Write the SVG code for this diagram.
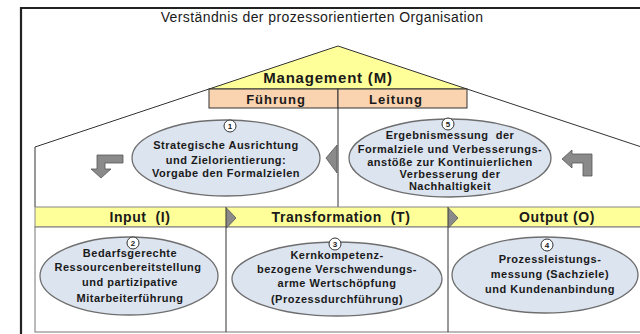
<svg xmlns="http://www.w3.org/2000/svg" width="640" height="334" viewBox="0 0 640 334">
<style>
.t{font-family:"Liberation Sans",Arial,sans-serif;fill:#1a1a1a;text-anchor:middle}
.b{font-weight:bold}
.el{fill:#dce4f0;stroke:#6e6e6e;stroke-width:1.3}
.ln{stroke:#333;stroke-width:1;fill:none}
.arr{fill:#8a8a8a;stroke:#555;stroke-width:0.8}
.num{fill:#fff;stroke:#333;stroke-width:1}
.nt{font-family:"Liberation Sans",Arial,sans-serif;font-size:8px;font-weight:bold;text-anchor:middle;fill:#1a1a1a}
.et{font-size:11px;letter-spacing:0.5px}
.hd{font-size:14px;letter-spacing:0.6px}
</style>
<rect width="640" height="334" fill="#fff"/>
<g id="frame">
<path d="M21,334 V8 H640" fill="none" stroke="#222" stroke-width="2.2"/>
</g>
<text class="t" x="322" y="22" font-size="14" letter-spacing="0.4" fill="#000">Verständnis der prozessorientierten Organisation</text>
<g id="connectors">
<path class="ln" d="M209,89 L35,147 V207"/>
<path class="ln" d="M467,89 L640,146.5"/>
<path class="ln" d="M338,108 V207"/>
<path class="ln" d="M226,207 V332 M448,207 V332"/>
</g>
<g id="management">
<polygon points="338,46 209,89 467,89" fill="#ffff99" stroke="#333" stroke-width="1"/>
<text class="t b" x="328" y="83" font-size="15" letter-spacing="0.8">Management (M)</text>
</g>
<g id="fuehrung">
<rect x="209" y="89" width="129" height="19" fill="#fad3b0" stroke="#333" stroke-width="1"/>
<text class="t b" x="276" y="103.5" font-size="13" letter-spacing="1">Führung</text>
</g>
<g id="leitung">
<rect x="338" y="89" width="129" height="19" fill="#fad3b0" stroke="#333" stroke-width="1"/>
<text class="t b" x="396" y="103.5" font-size="13" letter-spacing="1">Leitung</text>
</g>
<g id="arrow-left">
<path class="arr" d="M123,155 L97,155 L97,169 L91,169 L101,178 L111,169 L105,169 L105,163 L123,163 Z"/>
</g>
<g id="arrow-center">
<polygon class="arr" points="326,158 337,145 337,173"/>
</g>
<g id="arrow-right">
<path class="arr" d="M562,159 L572,150 L572,154 L592,154 L592,176 L583,176 L583,163 L572,163 L572,168 Z"/>
</g>
<g id="node1">
<ellipse class="el" cx="226" cy="158" rx="94" ry="38"/>
<circle class="num" cx="230" cy="126" r="6"/>
<text class="nt" x="230" y="129">1</text>
<text class="t b et" x="226" y="149">Strategische Ausrichtung</text>
<text class="t b et" x="226" y="163.5">und Zielorientierung:</text>
<text class="t b et" x="226" y="177">Vorgabe den Formalzielen</text>
</g>
<g id="node5">
<ellipse class="el" cx="450" cy="158" rx="101" ry="39"/>
<circle class="num" cx="448" cy="124" r="6"/>
<text class="nt" x="448" y="127">5</text>
<text class="t b et" x="450" y="139" xml:space="preserve">Ergebnismessung  der</text>
<text class="t b et" x="450" y="152.5">Formalziele und Verbesserungs-</text>
<text class="t b et" x="450" y="165.5">anstöße zur Kontinuierlichen</text>
<text class="t b et" x="450" y="178">Verbesserung der</text>
<text class="t b et" x="450" y="190">Nachhaltigkeit</text>
</g>
<g id="band">
<rect x="35" y="207" width="620" height="20" fill="#ffff99" stroke="#888" stroke-width="1"/>
<rect x="35" y="227" width="620" height="105" fill="#fff" stroke="#777" stroke-width="1"/>
<path class="ln" d="M226,207 V332 M448,207 V332"/>
<polygon class="arr" points="226.5,208 236,218 226.5,228"/>
<polygon class="arr" points="448.5,208 458,218 448.5,228"/>
</g>
<g id="input">
<text class="t b hd" x="140" y="222" xml:space="preserve">Input  (I)</text>
</g>
<g id="transformation">
<text class="t b hd" x="341" y="222" xml:space="preserve">Transformation  (T)</text>
</g>
<g id="output">
<text class="t b hd" x="557" y="222">Output (O)</text>
</g>
<g id="node2">
<ellipse class="el" cx="129" cy="276" rx="89" ry="39"/>
<circle class="num" cx="133" cy="243" r="6"/>
<text class="nt" x="133" y="246">2</text>
<text class="t b et" x="130" y="257">Bedarfsgerechte</text>
<text class="t b et" x="128" y="271">Ressourcenbereitstellung</text>
<text class="t b et" x="130" y="286">und partizipative</text>
<text class="t b et" x="130" y="302">Mitarbeiterführung</text>
</g>
<g id="node3">
<ellipse class="el" cx="337" cy="279" rx="105" ry="37"/>
<circle class="num" cx="335" cy="244" r="6"/>
<text class="nt" x="335" y="247">3</text>
<text class="t b et" x="337" y="259">Kernkompetenz-</text>
<text class="t b et" x="337" y="273">bezogene Verschwendungs-</text>
<text class="t b et" x="337" y="287">arme Wertschöpfung</text>
<text class="t b et" x="337" y="303">(Prozessdurchführung)</text>
</g>
<g id="node4">
<ellipse class="el" cx="545" cy="275" rx="93" ry="38"/>
<circle class="num" cx="547" cy="245" r="6"/>
<text class="nt" x="547" y="248">4</text>
<text class="t b et" x="550" y="263">Prozessleistungs-</text>
<text class="t b et" x="550" y="278">messung (Sachziele)</text>
<text class="t b et" x="550" y="293">und Kundenanbindung</text>
</g>
</svg>
